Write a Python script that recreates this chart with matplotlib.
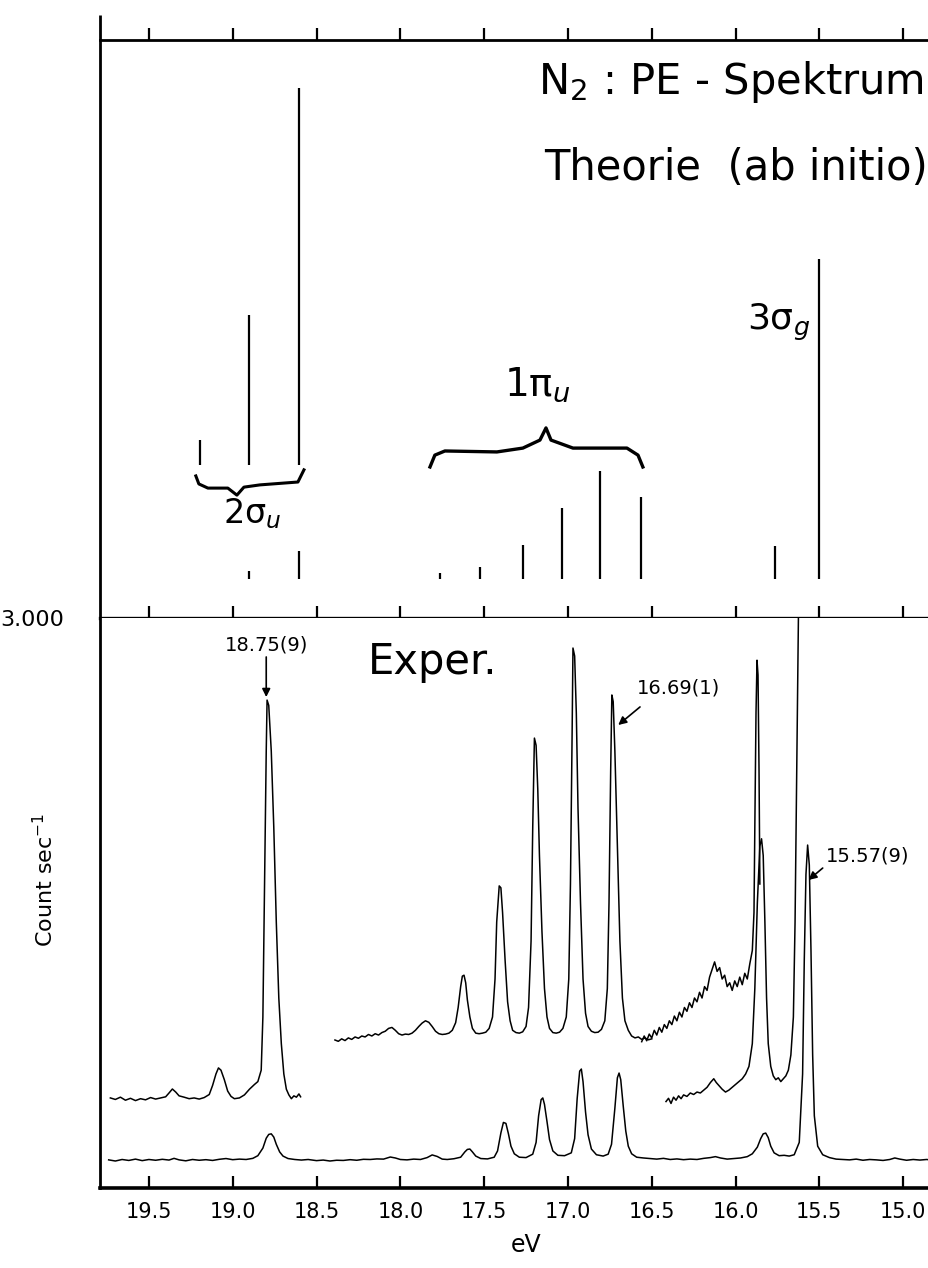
import matplotlib.pyplot as plt
from matplotlib import font_manager

# narrow face for the numbers if we have one
_names = {f.name for f in font_manager.fontManager.ttflist}
if "Liberation Sans Narrow" in _names:
    num_font, num_size, tick_size, big_num = "Liberation Sans Narrow", 18, 19, 20
else:
    num_font, num_size, tick_size, big_num = "DejaVu Sans", 14, 15, 16

# ---- theory (ab initio) stick spectrum, intensities relative to 3sigma_g
theo_ev = [18.90, 18.605, 17.764, 17.525, 17.269, 17.036, 16.809, 16.565, 15.765, 15.50]
theo_int = [0.025, 0.0875, 0.019, 0.0375, 0.106, 0.222, 0.338, 0.256, 0.103, 1.0]

# 2sigma_u satellites, drawn magnified on a raised base
sat_ev = [19.195, 18.90, 18.605]
sat_int = [0.078, 0.469, 1.178]

# ---- experimental spectrum (counts/sec)
main_ev = [19.74, 19.70, 19.66, 19.62, 19.58, 19.54, 19.50, 19.46, 19.42, 19.38, 19.35, 19.32,
           19.28, 19.24, 19.20, 19.16, 19.12, 19.08, 19.04, 19.00, 18.96, 18.92, 18.88, 18.85,
           18.82, 18.80, 18.785, 18.77, 18.755, 18.74, 18.72, 18.70, 18.67, 18.63, 18.59, 18.55,
           18.50, 18.46, 18.42, 18.38, 18.34, 18.30, 18.26, 18.22, 18.18, 18.14, 18.10, 18.06,
           18.03, 18.00, 17.96, 17.92, 17.88, 17.84, 17.81, 17.78, 17.75, 17.72, 17.68, 17.64,
           17.615, 17.60, 17.585, 17.57, 17.55, 17.52, 17.48, 17.44, 17.42, 17.40, 17.385, 17.37,
           17.355, 17.34, 17.32, 17.29, 17.25, 17.21, 17.19, 17.175, 17.16, 17.15, 17.14, 17.125,
           17.11, 17.09, 17.06, 17.02, 16.98, 16.96, 16.945, 16.93, 16.92, 16.91, 16.895, 16.88,
           16.86, 16.83, 16.79, 16.76, 16.74, 16.72, 16.705, 16.695, 16.685, 16.67, 16.655, 16.64,
           16.62, 16.59, 16.55, 16.51, 16.47, 16.43, 16.39, 16.35, 16.31, 16.27, 16.23, 16.19,
           16.15, 16.12, 16.09, 16.05, 16.01, 15.97, 15.93, 15.90, 15.87, 15.85, 15.835, 15.82,
           15.805, 15.79, 15.77, 15.74, 15.71, 15.68, 15.65, 15.62, 15.60, 15.59, 15.58, 15.57,
           15.56, 15.55, 15.54, 15.53, 15.51, 15.48, 15.44, 15.40, 15.36, 15.32, 15.28, 15.24,
           15.20, 15.16, 15.12, 15.08, 15.05, 15.02, 14.98, 14.94, 14.90, 14.86, 14.82, 14.78,
           14.74, 14.71]
main_cps = [148, 142, 150, 145, 152, 144, 150, 146, 151, 147, 156, 148,
            143, 150, 146, 149, 145, 151, 155, 149, 152, 150, 156, 170,
            210, 262, 282, 285, 268, 230, 190, 168, 155, 150, 147, 150,
            144, 147, 142, 146, 145, 149, 146, 151, 150, 153, 152, 163,
            158, 150, 148, 152, 150, 160, 174, 166, 152, 150, 154, 162,
            190, 203, 205, 190, 168, 155, 153, 162, 195, 290, 345, 340,
            285, 220, 180, 162, 160, 178, 240, 380, 465, 474, 440, 350,
            255, 195, 172, 170, 185, 260, 470, 615, 626, 560, 400, 280,
            205, 175, 168, 178, 230, 420, 580, 605, 570, 430, 300, 220,
            180, 162, 158, 155, 152, 156, 150, 153, 149, 152, 150, 156,
            160, 165, 158, 152, 155, 158, 165, 180, 215, 260, 285, 289,
            265, 220, 185, 170, 172, 168, 175, 240, 600, 1200, 1650, 1805,
            1700, 1250, 700, 380, 220, 175, 160, 152, 150, 148, 152, 146,
            150, 148, 145, 150, 158, 152, 146, 150, 147, 150, 146, 149,
            147, 148]

# magnified trace, 2sigma_u region
left_ev = [19.73, 19.70, 19.67, 19.64, 19.61, 19.58, 19.55, 19.52, 19.49, 19.46, 19.43, 19.40,
           19.38, 19.36, 19.34, 19.32, 19.29, 19.26, 19.23, 19.20, 19.17, 19.14, 19.12, 19.10,
           19.085, 19.07, 19.05, 19.03, 19.01, 18.99, 18.96, 18.93, 18.90, 18.87, 18.85, 18.83,
           18.82, 18.81, 18.80, 18.795, 18.785, 18.77, 18.755, 18.74, 18.725, 18.71, 18.695, 18.68,
           18.665, 18.65, 18.635, 18.62, 18.605, 18.595]
left_cps = [474, 466, 478, 462, 472, 460, 470, 464, 476, 468, 474, 480,
            500, 521, 505, 485, 478, 470, 474, 468, 476, 492, 540, 600,
            632, 620, 570, 510, 482, 470, 474, 490, 520, 545, 560, 620,
            900, 1600, 2300, 2568, 2540, 2300, 1900, 1400, 1000, 760, 600, 520,
            490, 470, 485, 478, 495, 480]

# magnified trace, 1pi_u region
mid_ev = [18.39, 18.37, 18.35, 18.33, 18.31, 18.29, 18.27, 18.25, 18.23, 18.21, 18.19, 18.17,
          18.15, 18.13, 18.11, 18.09, 18.07, 18.05, 18.03, 18.01, 17.99, 17.97, 17.95, 17.93,
          17.91, 17.89, 17.87, 17.85, 17.83, 17.81, 17.79, 17.77, 17.75, 17.73, 17.71, 17.69,
          17.67, 17.655, 17.64, 17.63, 17.62, 17.61, 17.60, 17.585, 17.57, 17.55, 17.53, 17.51,
          17.49, 17.47, 17.45, 17.435, 17.425, 17.41, 17.40, 17.39, 17.375, 17.36, 17.345, 17.33,
          17.31, 17.29, 17.27, 17.25, 17.235, 17.22, 17.21, 17.20, 17.19, 17.18, 17.17, 17.155,
          17.14, 17.125, 17.11, 17.09, 17.07, 17.05, 17.03, 17.01, 16.995, 16.985, 16.975, 16.97,
          16.96, 16.95, 16.94, 16.925, 16.91, 16.895, 16.88, 16.86, 16.84, 16.82, 16.80, 16.78,
          16.765, 16.755, 16.745, 16.738, 16.73, 16.72, 16.705, 16.69, 16.675, 16.66, 16.64, 16.62,
          16.60, 16.58, 16.56, 16.54, 16.52, 16.50]
mid_cps = [779, 772, 785, 776, 790, 782, 795, 788, 800, 795, 808, 800,
           812, 805, 818, 825, 840, 845, 830, 812, 805, 810, 808, 815,
           830, 850, 868, 880, 872, 850, 825, 812, 808, 810, 815, 830,
           870, 950, 1060, 1115, 1120, 1080, 990, 900, 840, 815, 812, 815,
           820, 840, 900, 1100, 1400, 1590, 1580, 1450, 1200, 980, 880, 830,
           818, 815, 822, 850, 950, 1300, 1900, 2368, 2330, 2100, 1750, 1350,
           1050, 900, 840, 818, 815, 820, 840, 900, 1100, 1600, 2400, 2842,
           2800, 2500, 2000, 1500, 1100, 920, 850, 825, 818, 820, 835, 880,
           1050, 1500, 2200, 2595, 2560, 2300, 1800, 1300, 1000, 880, 830, 800,
           790, 795, 782, 790, 780, 785]

# strongly magnified trace, 3sigma_g satellites
r1_ev = [16.56, 16.545, 16.53, 16.515, 16.50, 16.485, 16.47, 16.455, 16.44, 16.425, 16.41, 16.395,
         16.38, 16.365, 16.35, 16.335, 16.32, 16.305, 16.29, 16.275, 16.26, 16.245, 16.23, 16.215,
         16.20, 16.185, 16.17, 16.155, 16.14, 16.125, 16.11, 16.095, 16.08, 16.065, 16.05, 16.035,
         16.02, 16.005, 15.99, 15.975, 15.96, 15.945, 15.93, 15.915, 15.90, 15.89, 15.885, 15.878,
         15.872, 15.866, 15.86, 15.855]
r1_cps = [770, 800, 775, 810, 790, 830, 805, 845, 820, 860, 840, 880,
          860, 905, 880, 925, 900, 950, 930, 975, 950, 1000, 980, 1030,
          1000, 1060, 1040, 1110, 1150, 1190, 1140, 1160, 1100, 1120, 1060, 1080,
          1040, 1090, 1060, 1110, 1070, 1130, 1100, 1180, 1250, 1450, 1900, 2500,
          2778, 2700, 2200, 1600]

# magnified trace, 3sigma_g region
r2_ev = [16.415, 16.40, 16.385, 16.37, 16.355, 16.34, 16.325, 16.31, 16.29, 16.27, 16.25, 16.23,
         16.21, 16.19, 16.17, 16.15, 16.13, 16.115, 16.10, 16.08, 16.06, 16.04, 16.02, 16.00,
         15.98, 15.96, 15.94, 15.92, 15.90, 15.885, 15.87, 15.855, 15.845, 15.835, 15.825, 15.815,
         15.805, 15.79, 15.775, 15.76, 15.745, 15.73, 15.715, 15.70, 15.685, 15.67, 15.655, 15.645,
         15.635, 15.625, 15.615]
r2_cps = [455, 472, 445, 478, 462, 485, 470, 490, 482, 500, 492, 505,
          500, 515, 530, 555, 575, 555, 540, 520, 505, 515, 530, 545,
          560, 575, 600, 640, 760, 1050, 1500, 1800, 1838, 1750, 1400, 1000,
          760, 640, 590, 570, 580, 560, 575, 590, 620, 700, 900, 1400,
          2200, 3000, 3800]

xticks = [19.5, 19.0, 18.5, 18.0, 17.5, 17.0, 16.5, 16.0, 15.5, 15.0]
xtick_labels = ["19.5", "19.0", "18.5", "18.0", "17.5", "17.0", "16.5", "16.0", "15.5", "15.0"]

# figure, 929 x 1268 px
fig = plt.figure(figsize=(9.29, 12.68), dpi=100)
ax_top = fig.add_axes([0.1076, 0.5126, 0.9171, 0.4558])
ax_bot = fig.add_axes([0.1076, 0.0631, 0.9171, 0.4495], sharex=ax_top)

ax_top.set_xlim(19.792, 14.709)

# --- top panel: theory
sat_base = 0.356
ax_top.vlines(theo_ev, 0, theo_int, color="k", lw=1.6)
ax_top.vlines(sat_ev, sat_base, [sat_base + h for h in sat_int], color="k", lw=1.6)
ax_top.set_ylim(-0.122, 1.684)

# braces (hand drawn in the original)
brace_2su_x = [19.22, 19.202, 19.148, 19.029, 18.975, 18.933, 18.838, 18.611, 18.575]
brace_2su_y = [0.322, 0.297, 0.284, 0.284, 0.262, 0.287, 0.294, 0.303, 0.341]
brace_1pu_x = [17.823, 17.794, 17.734, 17.424, 17.269, 17.167, 17.131, 17.101, 16.970,
               16.648, 16.582, 16.553]
brace_1pu_y = [0.350, 0.387, 0.400, 0.397, 0.409, 0.434, 0.472, 0.434, 0.409, 0.409,
               0.387, 0.350]
ax_top.plot(brace_2su_x, brace_2su_y, color="k", lw=2.2, solid_joinstyle="round")
ax_top.plot(brace_1pu_x, brace_1pu_y, color="k", lw=2.4, solid_joinstyle="round")

hand = dict(color="k", ha="center", va="center")
ax_top.text(16.03, 1.553, r"N$_2$ : PE - Spektrum", fontsize=30, **hand)
ax_top.text(16.00, 1.284, "Theorie  (ab initio)", fontsize=30, **hand)
ax_top.text(15.74, 0.803, r"3σ$_g$", fontsize=26, **hand)
ax_top.text(17.18, 0.606, r"1π$_u$", fontsize=28, **hand)
ax_top.text(18.885, 0.205, r"2σ$_u$", fontsize=24, **hand)

ax_top.spines["right"].set_visible(False)
ax_top.spines["top"].set_linewidth(2.0)
ax_top.spines["left"].set_linewidth(2.0)
ax_top.spines["bottom"].set_linewidth(2.4)
ax_top.set_yticks([])
ax_top.set_xticks(xticks)
ax_top.tick_params(axis="x", which="both", direction="in", length=9, width=1.6,
                   top=True, bottom=True, labelbottom=False, labeltop=False)
# ticks along the top edge stick out upward
for t in ax_top.xaxis.get_major_ticks():
    t.tick2line.set_marker(2)
ax_top.plot([0, 0], [1.0, 1.043], transform=ax_top.transAxes, color="k", lw=2.0,
            clip_on=False, solid_capstyle="butt")

# --- bottom panel: experiment
ax_bot.plot(main_ev, main_cps, color="k", lw=1.1)
ax_bot.plot(left_ev, left_cps, color="k", lw=1.1)
ax_bot.plot(mid_ev, mid_cps, color="k", lw=1.1)
ax_bot.plot(r1_ev, r1_cps, color="k", lw=1.1)
ax_bot.plot(r2_ev, r2_cps, color="k", lw=1.1)
ax_bot.set_ylim(0, 3000)

ax_bot.set_xticks(xticks)
ax_bot.set_xticklabels(xtick_labels, family=num_font, fontsize=tick_size)
ax_bot.tick_params(axis="x", direction="in", length=9, width=1.6, pad=10)
ax_bot.set_yticks([3000])
ax_bot.set_yticklabels(["3.000"], family=num_font, fontsize=big_num)
ax_bot.tick_params(axis="y", length=0, pad=26)
ax_bot.spines["right"].set_visible(False)
ax_bot.spines["top"].set_visible(False)
ax_bot.spines["left"].set_linewidth(2.0)
ax_bot.spines["bottom"].set_linewidth(2.6)

ax_bot.set_xlabel("eV", fontsize=17, labelpad=8)
ax_bot.set_ylabel(r"Count sec$^{-1}$", fontsize=16)
ax_bot.yaxis.set_label_coords(-0.05, 0.54)

ax_bot.text(17.81, 2768, "Exper.", fontsize=30, **hand)

arrow = dict(arrowstyle="-|>", color="k", lw=1.2, mutation_scale=12, shrinkA=0, shrinkB=0)
ax_bot.text(18.80, 2858, "18.75(9)", fontsize=num_size, family=num_font, **hand)
ax_bot.annotate("", xy=(18.80, 2584), xytext=(18.80, 2795), arrowprops=arrow)
ax_bot.text(16.34, 2632, "16.69(1)", fontsize=num_size, family=num_font, **hand)
ax_bot.annotate("", xy=(16.70, 2437), xytext=(16.57, 2532), arrowprops=arrow)
ax_bot.text(15.21, 1747, "15.57(9)", fontsize=num_size, family=num_font, **hand)
ax_bot.annotate("", xy=(15.565, 1621), xytext=(15.48, 1684), arrowprops=arrow)

fig.savefig("out.png", dpi=100)
